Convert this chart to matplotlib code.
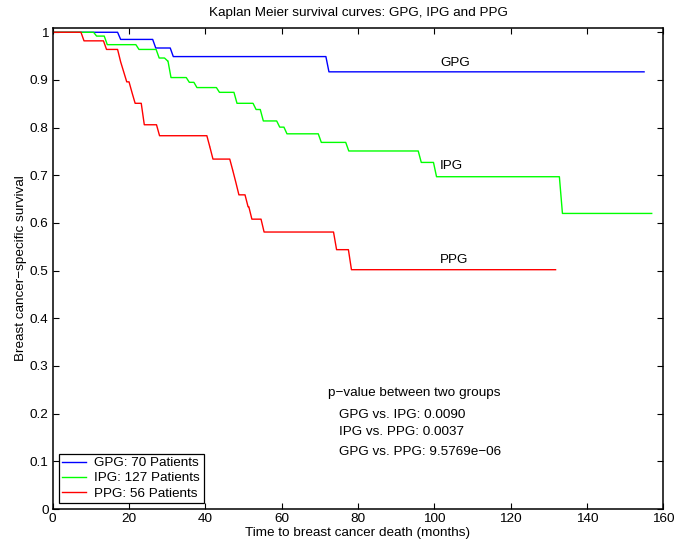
import numpy as np
import matplotlib
matplotlib.use("Agg")
import matplotlib.pyplot as plt

plt.rcParams['font.family'] = ['Liberation Sans', 'DejaVu Sans']
plt.rcParams['font.size'] = 9.7

# event times (months) and survival after each event
gpg_t = [17.0, 26.2, 30.8, 71.6]
gpg_s = [0.985, 0.967, 0.949, 0.917]
gpg_end = 155.0

ipg_t = [10.7, 13.5, 21.8, 27.1, 29.3, 30.2, 35.0, 37.0, 42.9, 47.5, 52.5,
         54.4, 58.7, 60.6, 69.6, 76.8, 95.8, 99.8, 132.8]
ipg_s = [0.992, 0.974, 0.964, 0.946, 0.940, 0.905, 0.895, 0.884, 0.874, 0.851, 0.838,
         0.814, 0.801, 0.787, 0.769, 0.751, 0.727, 0.697, 0.620]
ipg_end = 157.0

ppg_t = [7.4, 13.3, 17.0, 17.8, 18.6, 20.0, 20.8, 23.2, 27.2, 40.4, 41.2,
         46.4, 47.2, 48.0, 50.4, 51.4, 54.6, 73.6, 77.5]
ppg_s = [0.982, 0.964, 0.938, 0.917, 0.896, 0.873, 0.851, 0.806, 0.783, 0.759, 0.734,
         0.710, 0.685, 0.659, 0.634, 0.608, 0.581, 0.544, 0.502]
ppg_end = 131.8

legend_labels = ['GPG: 70 Patients', 'IPG: 127 Patients', 'PPG: 56 Patients']
pvals = ['GPG vs. IPG: 0.0090', 'IPG vs. PPG: 0.0037', 'GPG vs. PPG: 9.5769e\u221206']


def km_path(times, surv, t_end, dt=0.8):
    # stairs with a short slanted drop at each event
    xs, ys = [0.0], [1.0]
    prev = 1.0
    for t, s in zip(times, surv):
        xs += [t, t + dt]
        ys += [prev, s]
        prev = s
    xs.append(t_end)
    ys.append(prev)
    return np.array(xs), np.array(ys)


fig = plt.figure(figsize=(6.76, 5.5), dpi=100)
ax = fig.add_axes([0.078, 0.0745, 0.903, 0.8755])

for (t, s, e), col, lab in zip([(gpg_t, gpg_s, gpg_end), (ipg_t, ipg_s, ipg_end), (ppg_t, ppg_s, ppg_end)],
                               ['#0000ff', '#00ff00', '#ff0000'], legend_labels):
    x, y = km_path(t, s, e)
    ax.plot(x, y, color=col, lw=1.0, label=lab)

ax.set_xlim(0, 160)
ax.set_ylim(0, 1.01)
ax.set_xticks(np.arange(0, 161, 20))
yt = np.round(np.arange(0, 1.01, 0.1), 1)
ax.set_yticks(yt)
ax.set_yticklabels(['0'] + ['%.1f' % v for v in yt[1:-1]] + ['1'])
ax.tick_params(direction='in', top=True, right=True, length=4, width=0.8, pad=3)
for sp in ax.spines.values():
    sp.set_linewidth(1.1)

ax.set_title('Kaplan Meier survival curves: GPG, IPG and PPG', fontsize=9.7, pad=8)
ax.set_xlabel('Time to breast cancer death (months)', labelpad=1)
ax.set_ylabel('Breast cancer\u2212specific survival', labelpad=2)

ax.text(101.5, 0.935, 'GPG', va='center')
ax.text(101.5, 0.719, 'IPG', va='center')
ax.text(101.5, 0.522, 'PPG', va='center')

ax.text(72.1, 0.244, 'p\u2212value between two groups', va='center')
for yy, txt in zip([0.197, 0.161, 0.12], pvals):
    ax.text(75.1, yy, txt, va='center')

leg = ax.legend(loc='lower left', fancybox=False, framealpha=1, edgecolor='black',
                handlelength=1.8, handletextpad=0.6, labelspacing=0.2,
                borderpad=0.25, borderaxespad=0.45)
leg.get_frame().set_linewidth(0.9)

fig.savefig('out.png', dpi=100)
